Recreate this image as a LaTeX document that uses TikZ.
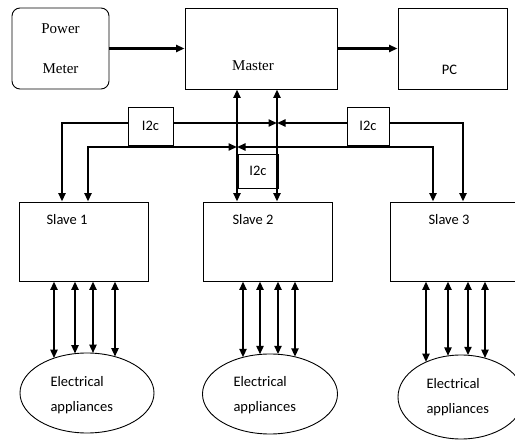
\documentclass[tikz,border=0pt]{standalone}
\usepackage{fontspec}
\setmainfont{Liberation Serif}
\newfontfamily\calibri{Carlito}
\usetikzlibrary{arrows.meta,shapes.geometric}

\begin{document}
\begin{tikzpicture}[x=1pt, y=-1pt, >={Triangle[length=8.5pt,width=7pt]},
    box/.style={draw, line width=0.9pt, inner sep=0pt},
    lbl/.style={font=\calibri\fontsize{14.5}{25}\selectfont},
    rom/.style={font=\fontsize{15}{40}\selectfont},
    link/.style={line width=2.4pt}]
    \useasboundingbox (0,0) rectangle (515,441);

    % Top row
    \node[box, rom, rounded corners=8pt, align=center, minimum width=97pt, minimum height=81pt] (pm) at (60.5,48.5) {Power\\Meter};
    \node[box, minimum width=152pt, minimum height=81pt] (master) at (261,48.5) {};
    \node[rom] (mastertxt) at (253,66) {Master};
    \node[box, minimum width=109pt, minimum height=81pt] (pc) at (452.5,48.5) {};
    \node[lbl] (pctxt) at (449.5,70) {PC};

    % Slaves
    \node[box, minimum width=129pt, minimum height=79pt] (s1) at (83.5,241.5) {};
    \node[box, minimum width=129pt, minimum height=79pt] (s2) at (267.5,241.5) {};
    \node[box, minimum width=129pt, minimum height=79pt] (s3) at (454.5,241.5) {};
    \node[lbl] (s1txt) at (67,220) {Slave 1};
    \node[lbl] (s2txt) at (253,220) {Slave 2};
    \node[lbl] (s3txt) at (449,220) {Slave 3};

    % Electrical appliances
    \node[box, ellipse, minimum width=134pt, minimum height=80pt] (e1) at (87,393) {};
    \node[box, ellipse, minimum width=135pt, minimum height=80pt] (e2) at (270,394) {};
    \node[box, ellipse, minimum width=126pt, minimum height=84pt] (e3) at (461,397) {};
    \node[lbl, align=left, anchor=west] (e1txt) at (47,395) {Electrical\\appliances};
    \node[lbl, align=left, anchor=west] (e2txt) at (230,395) {Electrical\\appliances};
    \node[lbl, align=left, anchor=west] (e3txt) at (423,397) {Electrical\\appliances};

    % I2c bus
    \coordinate (jup) at (277,123);
    \coordinate (jlo) at (237,147);
    \node[box, lbl, fill=white, minimum width=40pt, minimum height=34pt] (i2cm) at (258,171) {I2c};
    \node[box, lbl, fill=white, minimum width=45pt, minimum height=38pt] (i2cl) at (150.5,126) {I2c};
    \node[box, lbl, fill=white, minimum width=42pt, minimum height=38pt] (i2cr) at (368,126) {I2c};

    \draw[link,->] (pm.east) -- (master.west);
    \draw[link,->] (master.east) -- (pc.west);
    \draw[link,<->] (master.south -| jlo) -- (s2.north -| jlo);
    \draw[link,<->] (master.south -| jup) -- (s2.north -| jup);

    \draw[link,->] (i2cl.west |- jup) -| (s1.north -| 62,0);
    \draw[link,->] (i2cl.east |- jup) -- (jup);
    \draw[link,->] (i2cr.east |- jup) -| (s3.north -| 463,0);
    \draw[link,->] (i2cr.west |- jup) -- (jup);
    \draw[link,<->] (s1.north -| 88,0) |- (jlo);
    \draw[link,<->] (s3.north -| 433,0) |- (jlo);

    % slaves to appliances
    \foreach \n/\cx/\cy/\rx/\ry/\xs in {1/87/393/67/40/{54,75,93,115}, 2/270/394/67.5/40/{243,260,278,295}, 3/461/397/63/42/{426,448,468,485}}
        \foreach \x in \xs
            \draw[link,<->] (s\n.south -| \x,0) -- (\x,{\cy-\ry*sqrt(1-((\x-\cx)/\rx)^2)});
\end{tikzpicture}
\end{document}
